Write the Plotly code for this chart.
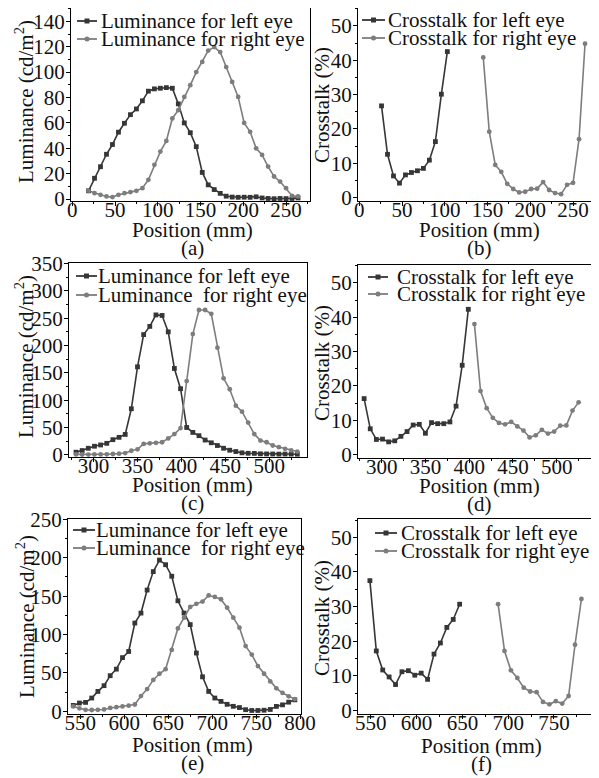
import plotly.graph_objects as go

W, H = 599, 778
OFF = 8  # page body margin of the written html
SERIF = "Liberation Serif"
INK = "#111111"
DARK = "#363636"
GRAY = "#7d7d7d"

# ---------------- (a) / (b) ----------------
pos_a = [19, 26, 33, 40, 47, 54, 61, 68, 75, 82, 89, 96, 103, 110, 117, 124, 131, 138,
         145, 152, 159, 166, 173, 180, 187, 194, 201, 208, 215, 222, 229, 236, 243, 250, 257, 264]
lum_left_a = [6.5, 16.4, 25.5, 35.3, 43, 52.7, 59.7, 66.5, 71, 77.4, 85, 86.8, 87.3, 87.8, 87.3,
              75, 60, 52.3, 41.3, 21, 11.2, 7.5, 4.5, 2.3, 1.6, 1.4, 1.5, 1.4, 1.8, 0.9,
              0.5, 0.3, 0.5, 0.4, 0.5, 0.9]
lum_right_a = [6.5, 4.7, 3.4, 2.1, 1.6, 3.4, 4.7, 5.5, 6.5, 8.6, 15.2, 27, 37.4, 45.8, 63.5,
               70, 80.5, 89.7, 100, 108, 117, 119.7, 115.8, 104, 92.3, 80.5, 60, 53, 40, 34.8,
               25.6, 17.8, 13.8, 8.6, 2.6, 2.1]
ct_left_b_x = [26, 33, 40, 47, 54, 61, 68, 75, 82, 89, 96, 103]
ct_left_b = [26.7, 12.6, 6.3, 4.2, 6.6, 7.3, 7.8, 8.5, 10.9, 16.3, 30.1, 42.5]
ct_right_b_x = [145, 152, 159, 166, 173, 180, 187, 194, 201, 208, 215, 222, 229, 236, 243, 250, 257, 264]
ct_right_b = [40.8, 19.2, 9.5, 7.5, 4.0, 2.5, 1.5, 1.7, 2.5, 2.6, 4.5, 2.2, 1.3, 1.0, 3.7, 4.3, 17.0, 44.8]

# ---------------- (c) / (d) ----------------
pos_c = [280, 287, 294, 301, 308, 315, 322, 329, 336, 343, 350, 357, 364, 371, 378, 385, 392, 399,
         406, 413, 420, 427, 434, 441, 448, 455, 462, 469, 476, 483, 490, 497, 504, 511, 518, 525, 532]
lum_left_c = [4.8, 7.8, 12, 15.7, 18, 21, 27.7, 32, 37.3, 84.3, 161, 220, 235, 256, 255, 225, 158, 121,
              50, 41, 35, 27, 22, 17, 12, 8.4, 6, 3.6, 2.8, 2.6, 1.8, 1.6, 1.5, 1.3, 1.4, 1.3, 1.1]
lum_right_c = [0.8, 0.6, 0.5, 0.7, 0.7, 0.9, 1.5, 2.1, 3.2, 7.4, 10, 20, 21, 22, 23, 30, 38, 49,
               135, 221, 265, 265, 258, 196, 140, 120, 90, 79, 59, 38, 26, 23, 17, 14, 11, 8, 6]
ct_left_d_x = [280, 287, 294, 301, 308, 315, 322, 329, 336, 343, 350, 357, 364, 371, 378, 385, 392, 399]
ct_left_d = [16.3, 7.5, 4.4, 4.5, 3.7, 4.0, 5.3, 6.7, 8.6, 8.8, 6.2, 9.3, 9.0, 9.0, 9.5, 14.1, 26, 42.3]
ct_right_d_x = [406, 413, 420, 427, 434, 441, 448, 455, 462, 469, 476, 483, 490, 497, 504, 511, 518, 525]
ct_right_d = [38, 18.5, 13.5, 10.7, 9.2, 8.8, 9.5, 8.2, 7.0, 5.0, 5.6, 7.2, 6.1, 6.7, 8.4, 8.5, 12.8, 15.2]

# ---------------- (e) / (f) ----------------
pos_e = [542, 549, 556, 563, 570, 577, 584, 591, 598, 605, 612, 619, 626, 633, 640, 647, 654, 661,
         668, 675, 682, 689, 696, 703, 710, 717, 724, 731, 738, 745, 752, 759, 766, 773, 780, 787, 794]
lum_left_e = [7.8, 10.9, 11.7, 17.4, 26, 33.5, 46.5, 55, 70, 78, 115, 128, 158, 182, 197, 191, 176, 144,
              128, 113, 76, 45, 26, 17.4, 13, 9.2, 6.6, 5, 2.2, 1.2, 1.2, 1.5, 2.5, 6.5, 8.5, 12, 15]
lum_right_e = [6.5, 4, 2, 1.8, 2, 2.5, 4.5, 5.5, 6.5, 7.5, 9, 20, 29, 41, 49, 55, 80, 108,
               122, 136, 140, 143, 151, 149, 146, 135, 122, 109, 85, 74, 59, 49, 39, 30, 24, 19.6, 16]
ct_left_f_x = [549, 556, 563, 570, 577, 584, 591, 598, 605, 612, 619, 626, 633, 640, 647]
ct_left_f = [37.5, 17.2, 11.7, 9.7, 7.5, 11.2, 11.5, 10.2, 10.8, 9.0, 16.3, 19.5, 24.0, 26.3, 30.7]
ct_right_f_x = [689, 696, 703, 710, 717, 724, 731, 738, 745, 752, 759, 766, 773, 780]
ct_right_f = [30.7, 17.2, 11.6, 9.4, 6.6, 5.5, 5.3, 2.5, 1.8, 2.7, 2.0, 4.2, 19.0, 32.2]

LUM_TITLE = "Luminance (cd/m<sup>2</sup>)"
CT_TITLE = "Crosstalk (%)"

panels = [
    dict(tag="(a)", frame=(71, 310, 8, 201), xr=[-1.5, 278], yr=[-1.5, 150.5], xt0=0, xd=50, yd=20,
         ytitle=LUM_TITLE, ytx=25, yty=102,
         series=[(pos_a, lum_left_a, "left"), (pos_a, lum_right_a, "right")],
         legend=["Luminance for left eye", "Luminance for right eye"],
         leg=(77, 97, 100, 21, 39)),
    dict(tag="(b)", frame=(358, 597, 8, 201), xr=[-1.5, 278], yr=[-1, 55.2], xt0=0, xd=50, yd=10,
         ytitle=CT_TITLE, ytx=322, yty=105,
         series=[(ct_left_b_x, ct_left_b, "left"), (ct_right_b_x, ct_right_b, "right")],
         legend=["Crosstalk for left eye", "Crosstalk for right eye"],
         leg=(362, 385, 387, 20, 38)),
    dict(tag="(c)", frame=(69, 307, 263, 457), xr=[272, 543], yr=[-4, 351], xt0=300, xd=50, yd=50,
         ytitle=LUM_TITLE, ytx=25, yty=357,
         series=[(pos_c, lum_left_c, "left"), (pos_c, lum_right_c, "right")],
         legend=["Luminance for left eye", "Luminance\u00a0 for right eye"],
         leg=(76, 97, 97, 276, 295)),
    dict(tag="(d)", frame=(358, 597, 265, 458), xr=[273, 546], yr=[-1, 55.2], xt0=300, xd=50, yd=10,
         ytitle=CT_TITLE, ytx=322, yty=363,
         series=[(ct_left_d_x, ct_left_d, "left"), (ct_right_d_x, ct_right_d, "right")],
         legend=["Crosstalk for left eye", "Crosstalk for right eye"],
         leg=(368, 388, 396, 277, 294)),
    dict(tag="(e)", frame=(68, 301, 519, 714), xr=[536, 801], yr=[-3.4, 250.5], xt0=550, xd=50, yd=50,
         ytitle=LUM_TITLE, ytx=25, yty=617,
         series=[(pos_e, lum_left_e, "left"), (pos_e, lum_right_e, "right")],
         legend=["Luminance for left eye", "Luminance\u00a0 for right eye"],
         leg=(73, 95, 95, 530, 548)),
    dict(tag="(f)", frame=(358, 597, 519, 714), xr=[536, 797], yr=[-1, 55.3], xt0=550, xd=50, yd=10,
         ytitle=CT_TITLE, ytx=322, yty=618,
         series=[(ct_left_f_x, ct_left_f, "left"), (ct_right_f_x, ct_right_f, "right")],
         legend=["Crosstalk for left eye", "Crosstalk for right eye"],
         leg=(375, 397, 400, 533, 551)),
]

xlabel_pos = {"(a)": (192, 230, 248), "(b)": (479, 230, 248), "(c)": (192, 485, 503),
              "(d)": (479, 486, 504), "(e)": (192, 745, 763), "(f)": (481, 746, 764)}


def fx(p):
    return (p - OFF) / W


def fy(p):
    return 1 - (p - OFF) / H


STYLE = {"left": dict(color=DARK, symbol="square", size=4.8),
         "right": dict(color=GRAY, symbol="circle", size=4.8)}

fig = go.Figure()
layout = dict(template="none", width=W, height=H, margin=dict(l=0, r=0, t=0, b=0, pad=0),
              paper_bgcolor="white", plot_bgcolor="white", showlegend=False,
              font=dict(family=SERIF, size=21, color=INK))
annotations = []
shapes = []

for i, p in enumerate(panels, start=1):
    x0, x1, y0, y1 = p["frame"]
    xa = "x" if i == 1 else f"x{i}"
    ya = "y" if i == 1 else f"y{i}"
    xkey = "xaxis" if i == 1 else f"xaxis{i}"
    ykey = "yaxis" if i == 1 else f"yaxis{i}"
    common = dict(showline=True, mirror=True, linecolor="black", linewidth=1.2,
                  showgrid=False, zeroline=False, ticks="outside", ticklen=4,
                  tickwidth=1, tickcolor="black", fixedrange=True, automargin=False,
                  tickfont=dict(family=SERIF, size=21, color=INK))
    layout[xkey] = dict(common, domain=[fx(x0), fx(x1)], anchor=ya, range=p["xr"],
                        tickmode="linear", tick0=p["xt0"], dtick=p["xd"], ticklabelstandoff=-14,
                        minor=dict(ticks="outside", ticklen=2, tick0=p["xt0"],
                                   dtick=p["xd"] / 2, tickcolor="black"))
    layout[ykey] = dict(common, domain=[fy(y1), fy(y0)], anchor=xa, range=p["yr"],
                        tickmode="linear", tick0=0, dtick=p["yd"], ticklabelstandoff=-3,
                        minor=dict(ticks="outside", ticklen=2, tick0=0,
                                   dtick=p["yd"] / 2, tickcolor="black"))
    for xs, ys, side in p["series"]:
        st = STYLE[side]
        fig.add_trace(go.Scatter(x=xs, y=ys, mode="lines+markers", xaxis=xa, yaxis=ya,
                                 line=dict(color=st["color"], width=1.6),
                                 marker=dict(color=st["color"], symbol=st["symbol"], size=st["size"]),
                                 hoverinfo="skip"))
    annotations.append(dict(text=p["ytitle"], x=fx(p["ytx"]), y=fy(p["yty"]), xref="paper", yref="paper",
                            textangle=-90, showarrow=False, xanchor="center", yanchor="middle",
                            borderpad=0, font=dict(family=SERIF, size=21, color=INK)))
    cx, ty, ly = xlabel_pos[p["tag"]]
    annotations.append(dict(text="Position (mm)", x=fx(cx), y=fy(ty), xref="paper", yref="paper",
                            showarrow=False, xanchor="center", yanchor="middle", borderpad=0,
                            font=dict(family=SERIF, size=21, color=INK)))
    annotations.append(dict(text=p["tag"], x=fx(cx), y=fy(ly), xref="paper", yref="paper",
                            showarrow=False, xanchor="center", yanchor="middle", borderpad=0,
                            font=dict(family=SERIF, size=21, color=INK)))
    lx0, lx1, tx, r1, r2 = p["leg"]
    for (row, text, side) in [(r1, p["legend"][0], "left"), (r2, p["legend"][1], "right")]:
        col = STYLE[side]["color"]
        shapes.append(dict(type="line", xref="paper", yref="paper", x0=fx(lx0), x1=fx(lx1),
                           y0=fy(row), y1=fy(row), line=dict(color=col, width=1.8)))
        mx = (lx0 + lx1) / 2
        r = 2.5
        shapes.append(dict(type="rect" if side == "left" else "circle", xref="paper", yref="paper",
                           x0=fx(mx - r), x1=fx(mx + r), y0=fy(row + r), y1=fy(row - r),
                           fillcolor=col, line=dict(color=col, width=0)))
        annotations.append(dict(text=text, x=fx(tx), y=fy(row), xref="paper", yref="paper",
                                showarrow=False, xanchor="left", yanchor="middle", borderpad=0,
                                font=dict(family=SERIF, size=21, color=INK)))

layout["annotations"] = annotations
layout["shapes"] = shapes
fig.update_layout(**layout)
fig.write_html("out.html")
